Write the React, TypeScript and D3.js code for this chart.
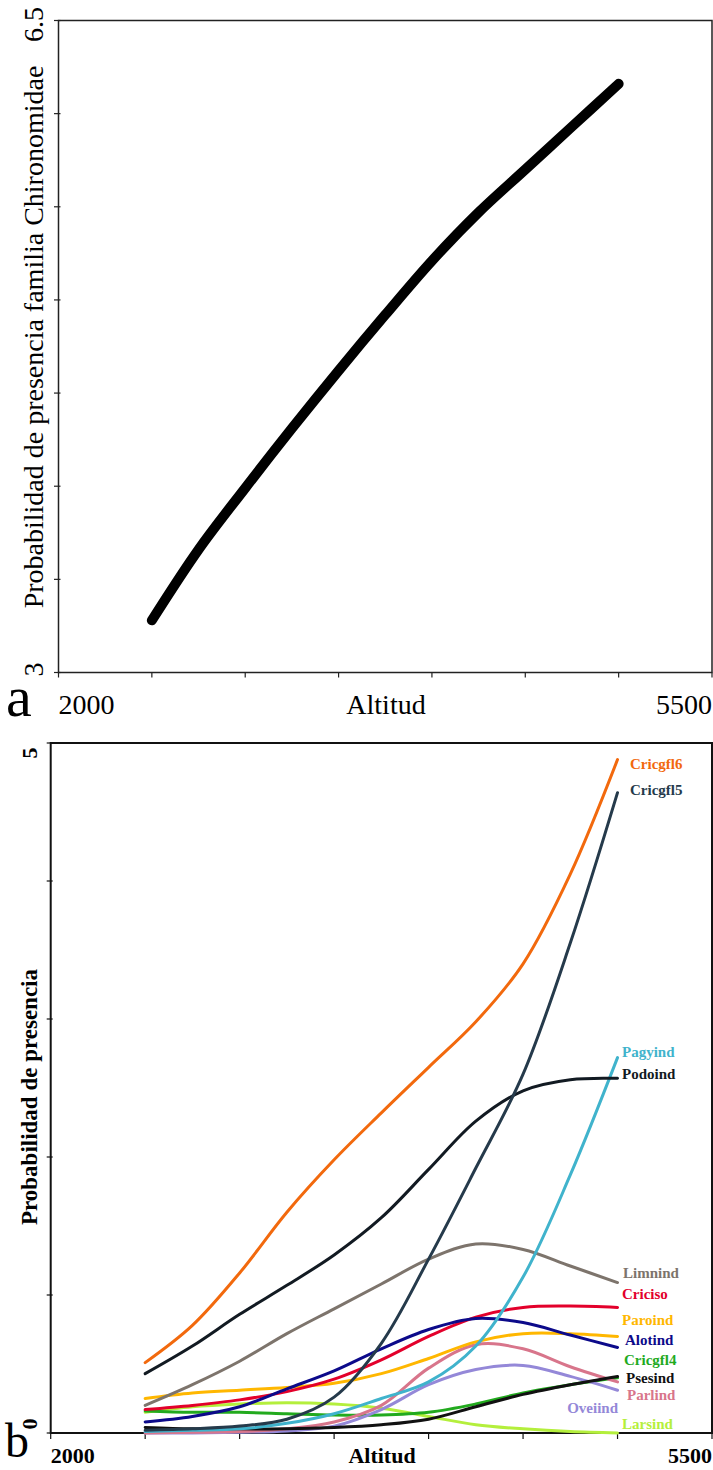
import React from "react";
import * as d3 from "d3";

const altitud = [2500, 2750, 3000, 3250, 3500, 3750, 4000, 4250, 4500, 4750, 5000];

// panel a
const chironomidae = [3.28, 3.66, 3.99, 4.31, 4.62, 4.92, 5.21, 5.47, 5.7, 5.93, 6.16];

// panel b
const cricgfl6 = [0.51, 0.78, 1.16, 1.6, 1.98, 2.32, 2.65, 2.98, 3.4, 4.05, 4.88];
const cricgfl5 = [0.02, 0.03, 0.05, 0.1, 0.26, 0.65, 1.26, 1.92, 2.6, 3.55, 4.64];
const pagyind = [0.01, 0.02, 0.03, 0.07, 0.14, 0.25, 0.37, 0.63, 1.13, 1.87, 2.72];
const podoind = [0.43, 0.63, 0.86, 1.07, 1.29, 1.56, 1.91, 2.26, 2.48, 2.56, 2.57];
const limnind = [0.2, 0.35, 0.52, 0.72, 0.9, 1.08, 1.26, 1.37, 1.33, 1.21, 1.09];
const criciso = [0.17, 0.2, 0.24, 0.3, 0.39, 0.53, 0.7, 0.84, 0.91, 0.92, 0.91];
const paroind = [0.25, 0.29, 0.31, 0.33, 0.36, 0.43, 0.54, 0.66, 0.72, 0.72, 0.7];
const alotind = [0.08, 0.12, 0.19, 0.32, 0.45, 0.61, 0.75, 0.83, 0.8, 0.71, 0.62];
const cricgfl4 = [0.16, 0.15, 0.15, 0.14, 0.13, 0.13, 0.15, 0.21, 0.29, 0.35, 0.4];
const psesind = [0.04, 0.03, 0.03, 0.03, 0.04, 0.06, 0.1, 0.19, 0.28, 0.35, 0.41];
const parlind = [0.0, 0.005, 0.01, 0.03, 0.08, 0.2, 0.47, 0.64, 0.61, 0.48, 0.37];
const oveiind = [0.0, 0.0, 0.005, 0.015, 0.05, 0.17, 0.35, 0.46, 0.49, 0.41, 0.31];
const larsind = [0.15, 0.19, 0.21, 0.22, 0.21, 0.18, 0.12, 0.06, 0.03, 0.01, 0.0];

const xTickValues = [2000, 2500, 3000, 3500, 4000, 4500, 5000, 5500];
const yTickA = [3, 3.5, 4, 4.5, 5, 5.5, 6, 6.5];
const yTickB = [0, 1, 2, 3, 4, 5];

const series = [
  { name: "Larsind", values: larsind, color: "#b4ef3c" },
  { name: "Cricgfl4", values: cricgfl4, color: "#22aa1e" },
  { name: "Oveiind", values: oveiind, color: "#9488d8" },
  { name: "Parlind", values: parlind, color: "#d8758b" },
  { name: "Psesind", values: psesind, color: "#111111" },
  { name: "Paroind", values: paroind, color: "#ffb700" },
  { name: "Criciso", values: criciso, color: "#e3002b" },
  { name: "Alotind", values: alotind, color: "#0c0a8a" },
  { name: "Limnind", values: limnind, color: "#7d746c" },
  { name: "Pagyind", values: pagyind, color: "#40b3cc" },
  { name: "Podoind", values: podoind, color: "#121a22" },
  { name: "Cricgfl5", values: cricgfl5, color: "#253a4b" },
  { name: "Cricgfl6", values: cricgfl6, color: "#f2690d" },
];

// where the end labels sit in panel b
const labelPos: Record<string, [number, number, string]> = {
  Cricgfl6: [630, 769, "start"],
  Cricgfl5: [630, 795, "start"],
  Pagyind: [622, 1057, "start"],
  Podoind: [622, 1079, "start"],
  Limnind: [623, 1278, "start"],
  Criciso: [622, 1299, "start"],
  Paroind: [622, 1325, "start"],
  Alotind: [625, 1345, "start"],
  Cricgfl4: [624, 1365, "start"],
  Psesind: [626, 1383, "start"],
  Parlind: [627, 1400, "start"],
  Oveiind: [618, 1413, "end"],
  Larsind: [622, 1429, "start"],
};

const serif = "'Liberation Serif', 'Times New Roman', serif";

export default function App() {
  // panel a scales
  const xa = d3.scaleLinear().domain([2000, 5500]).range([58.5, 712]);
  const ya = d3.scaleLinear().domain([3, 6.5]).range([672.5, 20.5]);
  // panel b scales
  const xb = d3.scaleLinear().domain([2000, 5500]).range([50.7, 712]);
  const yb = d3.scaleLinear().domain([0, 5]).range([1433, 743]);

  const lineA = d3
    .line<number>()
    .x((d, i) => xa(altitud[i]))
    .y((d) => ya(d))
    .curve(d3.curveCatmullRom.alpha(0.5));

  const lineB = d3
    .line<number>()
    .x((d, i) => xb(altitud[i]))
    .y((d) => yb(d))
    .curve(d3.curveCatmullRom.alpha(0.5));

  return (
    <svg
      width={713}
      height={1470}
      style={{ position: "absolute", left: 0, top: 0, background: "#fff" }}
      fontFamily={serif}
    >
      {/* ---------- panel a ---------- */}
      <rect
        x={xa(2000)}
        y={ya(6.5)}
        width={xa(5500) - xa(2000)}
        height={ya(3) - ya(6.5)}
        fill="none"
        stroke="#222"
        strokeWidth={1.5}
      />
      {xTickValues.map((t) => (
        <line key={"xa" + t} x1={xa(t)} x2={xa(t)} y1={ya(3)} y2={ya(3) + 5} stroke="#222" strokeWidth={1.2} />
      ))}
      {yTickA.map((t) => (
        <line key={"ya" + t} x1={xa(2000) - 4.5} x2={xa(2000) + 2} y1={ya(t)} y2={ya(t)} stroke="#222" strokeWidth={1.2} />
      ))}
      <path d={lineA(chironomidae) || ""} fill="none" stroke="#000" strokeWidth={10} strokeLinecap="round" strokeLinejoin="round" />

      <text transform={`translate(43,${ya(6.5) + 4}) rotate(-90)`} fontSize={28} textAnchor="middle">6.5</text>
      <text transform={`translate(43,${ya(3) - 3}) rotate(-90)`} fontSize={28} textAnchor="middle">3</text>
      <text transform="translate(43,337) rotate(-90)" fontSize={28} textAnchor="middle">
        Probabilidad de presencia familia Chironomidae
      </text>
      <text x={xa(2000)} y={714} fontSize={28}>2000</text>
      <text x={386} y={714} fontSize={28} textAnchor="middle">Altitud</text>
      <text x={xa(5500)} y={714} fontSize={28} textAnchor="end">5500</text>
      <text x={6} y={716} fontSize={58}>a</text>

      {/* ---------- panel b ---------- */}
      <rect
        x={xb(2000)}
        y={yb(5)}
        width={xb(5500) - xb(2000)}
        height={yb(0) - yb(5)}
        fill="none"
        stroke="#111"
        strokeWidth={2}
      />
      {xTickValues.map((t) => (
        <line key={"xb" + t} x1={xb(t)} x2={xb(t)} y1={yb(0)} y2={yb(0) + 6} stroke="#111" strokeWidth={1.2} />
      ))}
      {yTickB.map((t) => (
        <line key={"yb" + t} x1={xb(2000) - 4} x2={xb(2000) + 2} y1={yb(t)} y2={yb(t)} stroke="#111" strokeWidth={1.2} />
      ))}
      {series.map((s) => (
        <path key={s.name} d={lineB(s.values) || ""} fill="none" stroke={s.color} strokeWidth={3} strokeLinecap="round" />
      ))}
      {series.map((s) => {
        const [lx, ly, anchor] = labelPos[s.name];
        return (
          <text key={"l" + s.name} x={lx} y={ly} fontSize={15} fontWeight="bold" fill={s.color} textAnchor={anchor}>
            {s.name}
          </text>
        );
      })}

      <text transform={`translate(37,${yb(5) + 10}) rotate(-90)`} fontSize={22} fontWeight="bold" textAnchor="middle">5</text>
      <text transform={`translate(37,${yb(0) - 9}) rotate(-90)`} fontSize={22} fontWeight="bold" textAnchor="middle">0</text>
      <text transform="translate(37,1097) rotate(-90)" fontSize={23} fontWeight="bold" textAnchor="middle">
        Probabilidad de presencia
      </text>
      <text x={xb(2000)} y={1463} fontSize={22} fontWeight="bold">2000</text>
      <text x={382} y={1463} fontSize={22} fontWeight="bold" textAnchor="middle">Altitud</text>
      <text x={xb(5500)} y={1463} fontSize={22} fontWeight="bold" textAnchor="end">5500</text>
      <text x={5} y={1457} fontSize={48}>b</text>
    </svg>
  );
}
